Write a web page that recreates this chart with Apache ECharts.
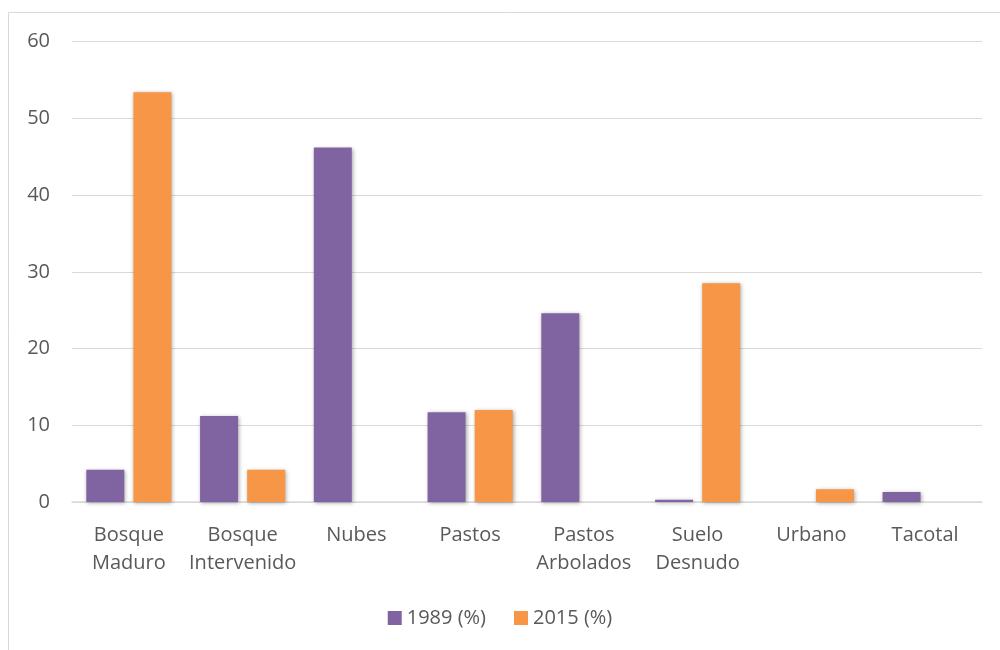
<!DOCTYPE html>
<html><head><meta charset="utf-8">
<script src="https://cdn.jsdelivr.net/npm/echarts@6/dist/echarts.min.js"></script>
<style>html,body{margin:0;padding:0;background:#fff}#c{width:1000px;height:650px;position:relative}</style>
</head><body><div id="c"></div>
<script>
const categories = ['Bosque\nMaduro','Bosque\nIntervenido','Nubes','Pastos','Pastos\nArbolados','Suelo\nDesnudo','Urbano','Tacotal'];
const values1989 = [4.2, 11.2, 46.2, 11.7, 24.6, 0.3, 0, 1.3];
const values2015 = [53.4, 4.2, 0, 12.0, 0, 28.5, 1.65, 0];
const yTicks = [0, 10, 20, 30, 40, 50, 60];

const chart = echarts.init(document.getElementById('c'));
const font = 'Open Sans';
const fs = 20;
const shadow = {shadowBlur: 4, shadowColor: 'rgba(0,0,0,0.35)', shadowOffsetX: 1, shadowOffsetY: 1};
chart.setOption({
  animation: false,
  graphic: [{type:'rect', shape:{x:8.5,y:12.5,width:1000,height:700}, style:{fill:'none', stroke:'#d9d9d9', lineWidth:1}, silent:true}],
  grid: {left: 72, right: 18, top: 41.7, bottom: 148},
  legend: {bottom: 17, left: 'center', itemWidth: 14, itemHeight: 14, itemGap: 28,
    textStyle: {fontFamily: font, fontSize: fs, color: '#595959'},
    data: [{name:'1989 (%)', icon:'rect'}, {name:'2015 (%)', icon:'rect'}]},
  xAxis: {type: 'category', data: categories,
    axisLine: {lineStyle: {color: '#d9d9d9', width: 1.5}}, axisTick: {show: false},
    axisLabel: {fontFamily: font, fontSize: fs, color: '#595959', margin: 19, lineHeight: 28, interval: 0}},
  yAxis: {type: 'value', min: yTicks[0], max: yTicks[yTicks.length-1], interval: 10,
    axisLine: {show: false}, axisTick: {show: false},
    splitLine: {lineStyle: {color: '#d9d9d9', width: 1}},
    axisLabel: {fontFamily: font, fontSize: fs, color: '#595959', margin: 22}},
  series: [
    {name: '1989 (%)', type: 'bar', data: values1989, barWidth: 38, barGap: '24%',
     itemStyle: Object.assign({color: '#8064A2'}, shadow)},
    {name: '2015 (%)', type: 'bar', data: values2015, barWidth: 38,
     itemStyle: Object.assign({color: '#F79646'}, shadow)}
  ]
});
</script></body></html>
